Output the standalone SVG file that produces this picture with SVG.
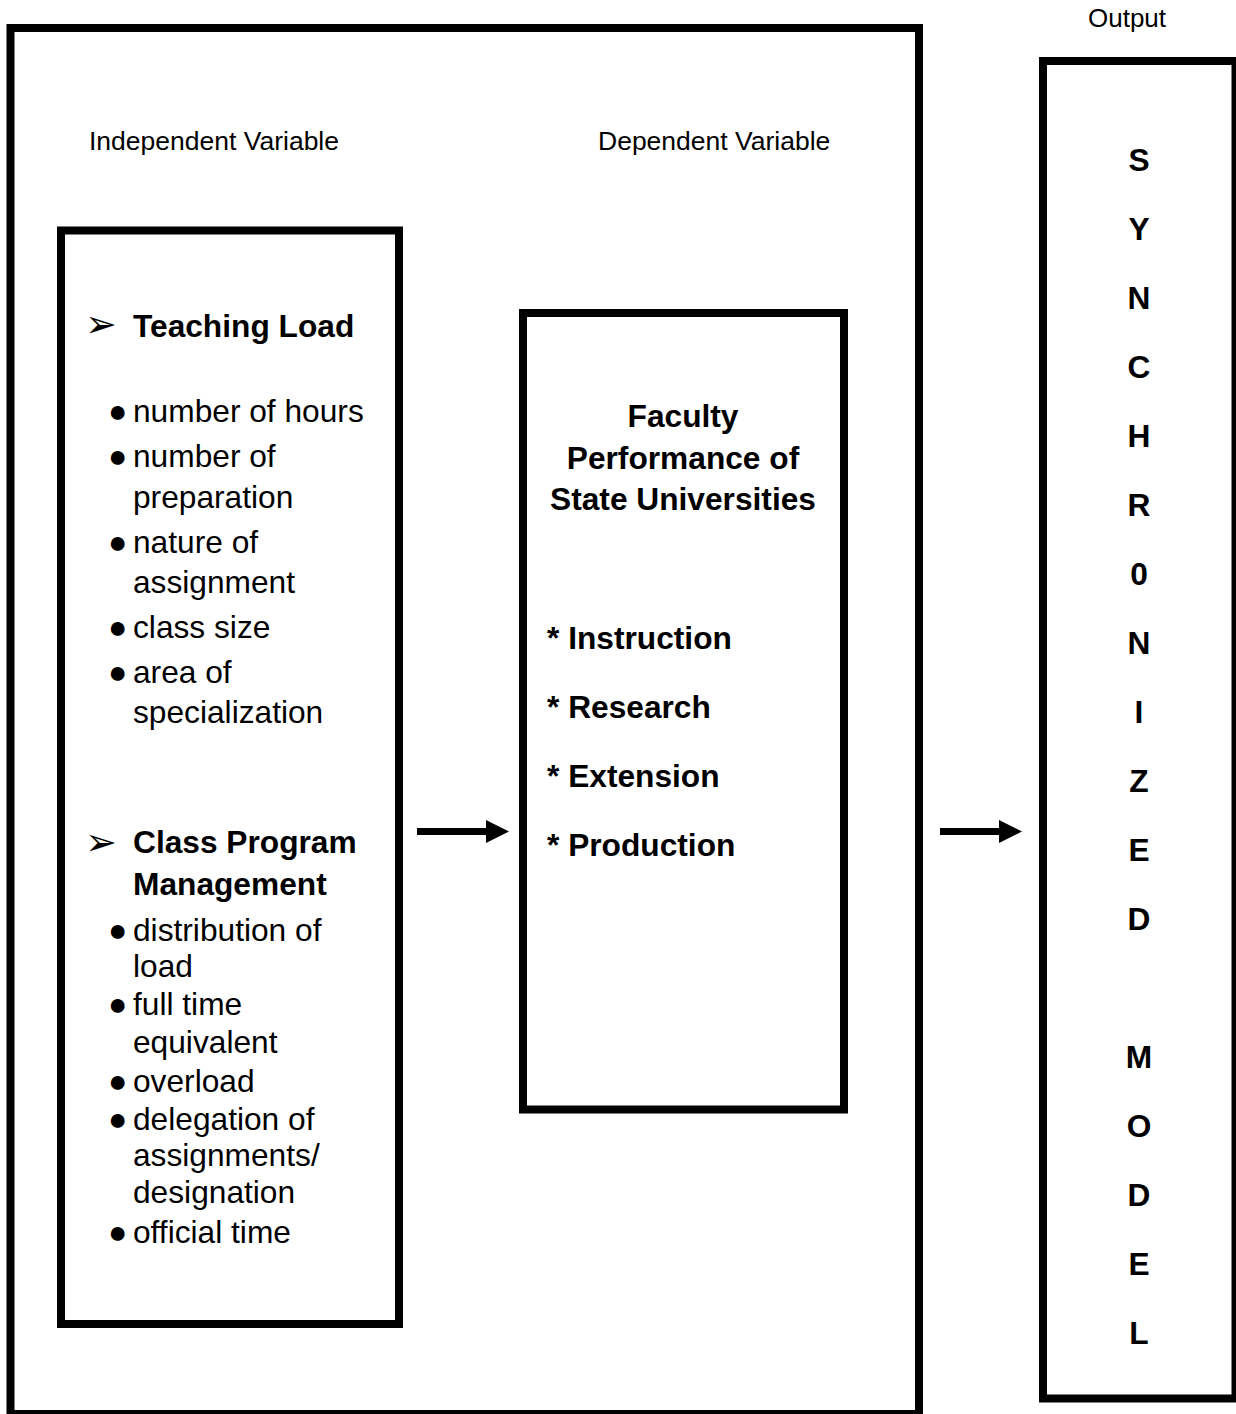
<svg xmlns="http://www.w3.org/2000/svg" width="1236" height="1414" viewBox="0 0 1236 1414">
<style>
.box{fill:none;stroke:#000;stroke-width:8}
.t{font-family:"Liberation Sans",Arial,sans-serif;fill:#000}
.r{font-size:31.7px}
.b{font-size:31.7px;font-weight:bold}
.h{font-size:26.5px}
.bul{font-family:"Liberation Sans",Arial,sans-serif;font-size:32px;fill:#000}
.arr{font-family:"DejaVu Sans",sans-serif;font-size:38px;fill:#000}
.c{stroke:#000;stroke-width:7;fill:none}
</style>
<defs>
<marker id="ah" markerUnits="userSpaceOnUse" markerWidth="24" markerHeight="24" refX="0" refY="11.5" orient="auto">
<path d="M0,0 L23,11.5 L0,23 Z" fill="#000"/>
</marker>
</defs>
<rect x="0" y="0" width="1236" height="1414" fill="#fff"/>

<g id="frame">
<rect class="box" x="10.5" y="28" width="908.5" height="1386"/>
<text class="t h" x="89" y="150">Independent Variable</text>
<text class="t h" x="598" y="150">Dependent Variable</text>
</g>

<g id="independent">
<rect class="box" x="61" y="230.5" width="338" height="1093.5"/>
<text class="arr" x="85" y="337">➢</text>
<text class="t b" x="133" y="337">Teaching Load</text>
<text class="bul" x="108" y="422">●</text>
<text class="t r" x="133" y="422">number of hours</text>
<text class="bul" x="108" y="467">●</text>
<text class="t r" x="133" y="467">number of</text>
<text class="t r" x="133" y="508">preparation</text>
<text class="bul" x="108" y="553">●</text>
<text class="t r" x="133" y="553">nature of</text>
<text class="t r" x="133" y="593">assignment</text>
<text class="bul" x="108" y="638">●</text>
<text class="t r" x="133" y="638">class size</text>
<text class="bul" x="108" y="683">●</text>
<text class="t r" x="133" y="683">area of</text>
<text class="t r" x="133" y="723">specialization</text>
<text class="arr" x="85" y="855">➢</text>
<text class="t b" x="133" y="853">Class Program</text>
<text class="t b" x="133" y="895">Management</text>
<text class="bul" x="108" y="941">●</text>
<text class="t r" x="133" y="941">distribution of</text>
<text class="t r" x="133" y="977">load</text>
<text class="bul" x="108" y="1015">●</text>
<text class="t r" x="133" y="1015">full time</text>
<text class="t r" x="133" y="1053">equivalent</text>
<text class="bul" x="108" y="1092">●</text>
<text class="t r" x="133" y="1092">overload</text>
<text class="bul" x="108" y="1130">●</text>
<text class="t r" x="133" y="1130">delegation of</text>
<text class="t r" x="133" y="1166">assignments/</text>
<text class="t r" x="133" y="1203">designation</text>
<text class="bul" x="108" y="1243">●</text>
<text class="t r" x="133" y="1243">official time</text>
</g>

<g id="dependent">
<rect class="box" x="523" y="313" width="321" height="796.5"/>
<text class="t b" x="683" y="427" text-anchor="middle">Faculty</text>
<text class="t b" x="683" y="469" text-anchor="middle">Performance of</text>
<text class="t b" x="683" y="510" text-anchor="middle">State Universities</text>
<text class="t b" x="547" y="649">* Instruction</text>
<text class="t b" x="547" y="718">* Research</text>
<text class="t b" x="547" y="787">* Extension</text>
<text class="t b" x="547" y="856">* Production</text>
</g>

<g id="output">
<text class="t" x="1127" y="27" text-anchor="middle" font-size="26">Output</text>
<rect class="box" x="1043" y="61" width="192.5" height="1337.5"/>
<g class="t b" text-anchor="middle">
<text x="1139" y="171">S</text>
<text x="1139" y="240">Y</text>
<text x="1139" y="309">N</text>
<text x="1139" y="378">C</text>
<text x="1139" y="447">H</text>
<text x="1139" y="516">R</text>
<text x="1139" y="585">0</text>
<text x="1139" y="654">N</text>
<text x="1139" y="723">I</text>
<text x="1139" y="792">Z</text>
<text x="1139" y="861">E</text>
<text x="1139" y="930">D</text>
<text x="1139" y="1068">M</text>
<text x="1139" y="1137">O</text>
<text x="1139" y="1206">D</text>
<text x="1139" y="1275">E</text>
<text x="1139" y="1344">L</text>
</g>
</g>

<g id="connectors">
<line class="c" x1="417" y1="831.5" x2="486" y2="831.5" marker-end="url(#ah)"/>
<line class="c" x1="940" y1="831.5" x2="999" y2="831.5" marker-end="url(#ah)"/>
</g>
</svg>
